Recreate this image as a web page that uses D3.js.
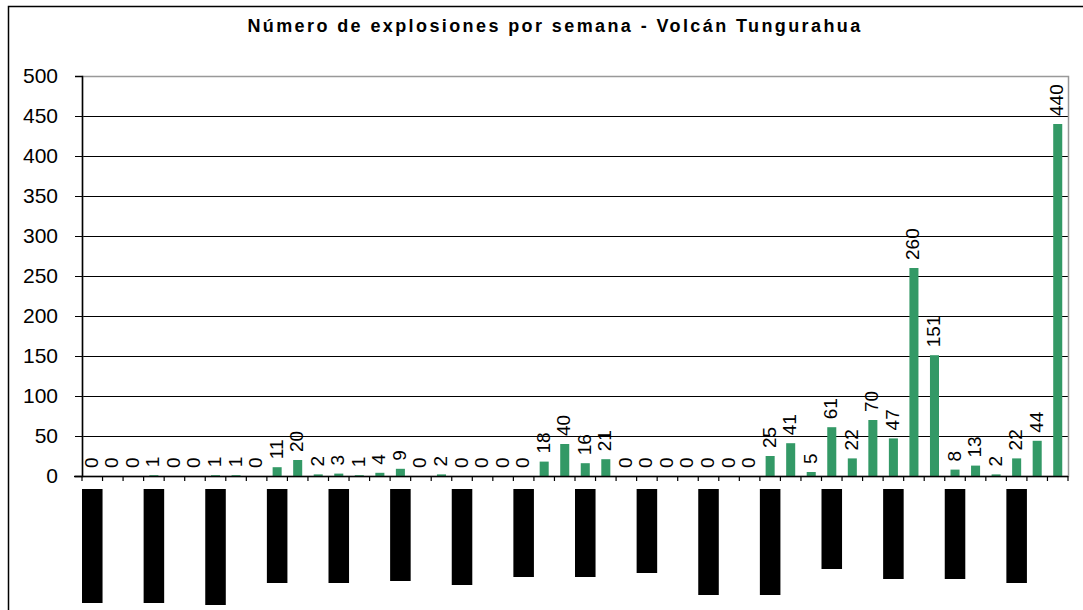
<!DOCTYPE html>
<html lang="es">
<head>
<meta charset="utf-8">
<script src="https://cdn.jsdelivr.net/npm/d3@7"></script>
<style>
  body { margin: 0; background: #fff; }
  svg text { font-family: "Liberation Sans", Arial, sans-serif; }
</style>
</head>
<body>
<svg width="1083" height="610"></svg>
<script>
// explosiones por semana (48 semanas)
var explosions = [0, 0, 0, 1, 0, 0, 1, 1, 0, 11,
                  20, 2, 3, 1, 4, 9, 0, 2, 0, 0,
                  0, 0, 18, 40, 16, 21, 0, 0, 0, 0,
                  0, 0, 0, 25, 41, 5, 61, 22, 70, 47,
                  260, 151, 8, 13, 2, 22, 44, 440];
var weeks = d3.range(1, explosions.length + 1);
var yTicks = [0, 50, 100, 150, 200, 250, 300, 350, 400, 450, 500];
// date labels are covered by black boxes in the source; one every 3 weeks
var labelWeeks = [1, 4, 7, 10, 13, 16, 19, 22, 25, 28, 31, 34, 37, 40, 43, 46];
var labelLengths = [114, 114, 116, 94, 94, 92, 96, 88, 88, 84, 106, 106, 80, 90, 90, 94];
var title = "Número de explosiones por semana - Volcán Tungurahua";

var svg = d3.select("svg");
var plotL = 82, plotR = 1068, plotT = 76, plotB = 476;

// outer frame (left + top edges are visible)
svg.append("path")
    .attr("d", "M8.5,700 V6.5 H1100")
    .attr("fill", "none")
    .attr("stroke", "#000")
    .attr("stroke-width", 1.5);

svg.append("text")
    .attr("x", 555)
    .attr("y", 32)
    .attr("text-anchor", "middle")
    .attr("font-size", "18px")
    .attr("font-weight", "bold")
    .attr("letter-spacing", "2.4px")
    .text(title);

var x = d3.scaleBand().domain(weeks).range([plotL, plotR]).paddingInner(0.56).paddingOuter(0.28);
var xCat = d3.scaleBand().domain(weeks).range([plotL, plotR]);
var y = d3.scaleLinear().domain([0, 500]).range([plotB, plotT]);

// gridlines
svg.append("g")
    .selectAll("line")
    .data(yTicks.filter(function(d) { return d > 0 && d < 500; }))
    .enter().append("line")
    .attr("x1", plotL).attr("x2", plotR)
    .attr("y1", function(d) { return Math.round(y(d)) + 0.5; })
    .attr("y2", function(d) { return Math.round(y(d)) + 0.5; })
    .attr("stroke", "#000")
    .attr("stroke-width", 1);

// plot area border (grey)
svg.append("rect")
    .attr("x", plotL + 0.5).attr("y", plotT + 0.5)
    .attr("width", plotR - plotL).attr("height", plotB - plotT)
    .attr("fill", "none")
    .attr("stroke", "#999")
    .attr("stroke-width", 1.5);

// bars
svg.append("g")
    .selectAll("rect")
    .data(explosions)
    .enter().append("rect")
    .attr("x", function(d, i) { return x(weeks[i]); })
    .attr("y", function(d) { return y(d); })
    .attr("width", x.bandwidth())
    .attr("height", function(d) { return plotB - y(d); })
    .attr("fill", "#339966");

// value labels
svg.append("g")
    .selectAll("text")
    .data(explosions)
    .enter().append("text")
    .attr("transform", function(d, i) {
        var cx = x(weeks[i]) + x.bandwidth() / 2 - 1;
        return "translate(" + cx + "," + (y(d) - 8) + ") rotate(-90)";
    })
    .attr("dominant-baseline", "central")
    .attr("font-size", "19px")
    .text(function(d) { return d; });

// y axis
var yAxis = svg.append("g")
    .attr("transform", "translate(" + plotL + ",0)")
    .call(d3.axisLeft(y).tickValues(yTicks).tickSize(7).tickPadding(17));
yAxis.select(".domain").attr("stroke", "#000").attr("stroke-width", 1.5);
yAxis.selectAll("text").attr("font-size", "21px").attr("fill", "#000")
    .attr("font-family", "Liberation Sans, Arial, sans-serif");

// x axis: ticks at week boundaries
var xg = svg.append("g");
xg.append("line")
    .attr("x1", plotL - 8).attr("x2", plotR)
    .attr("y1", plotB + 0.5).attr("y2", plotB + 0.5)
    .attr("stroke", "#000").attr("stroke-width", 1.5);
xg.selectAll(".tk")
    .data(weeks.concat([null]))
    .enter().append("line")
    .attr("class", "tk")
    .attr("x1", function(d) { return d === null ? plotR : xCat(d); })
    .attr("x2", function(d) { return d === null ? plotR : xCat(d); })
    .attr("y1", plotB)
    .attr("y2", plotB + 5)
    .attr("stroke", "#000")
    .attr("stroke-width", 1.2);

// redacted category labels (black boxes)
svg.append("g")
    .selectAll("rect")
    .data(labelWeeks)
    .enter().append("rect")
    .attr("x", function(d) { return xCat(d); })
    .attr("y", 489)
    .attr("width", xCat.bandwidth())
    .attr("height", function(d, i) { return labelLengths[i]; })
    .attr("fill", "#000");
</script>
</body>
</html>
